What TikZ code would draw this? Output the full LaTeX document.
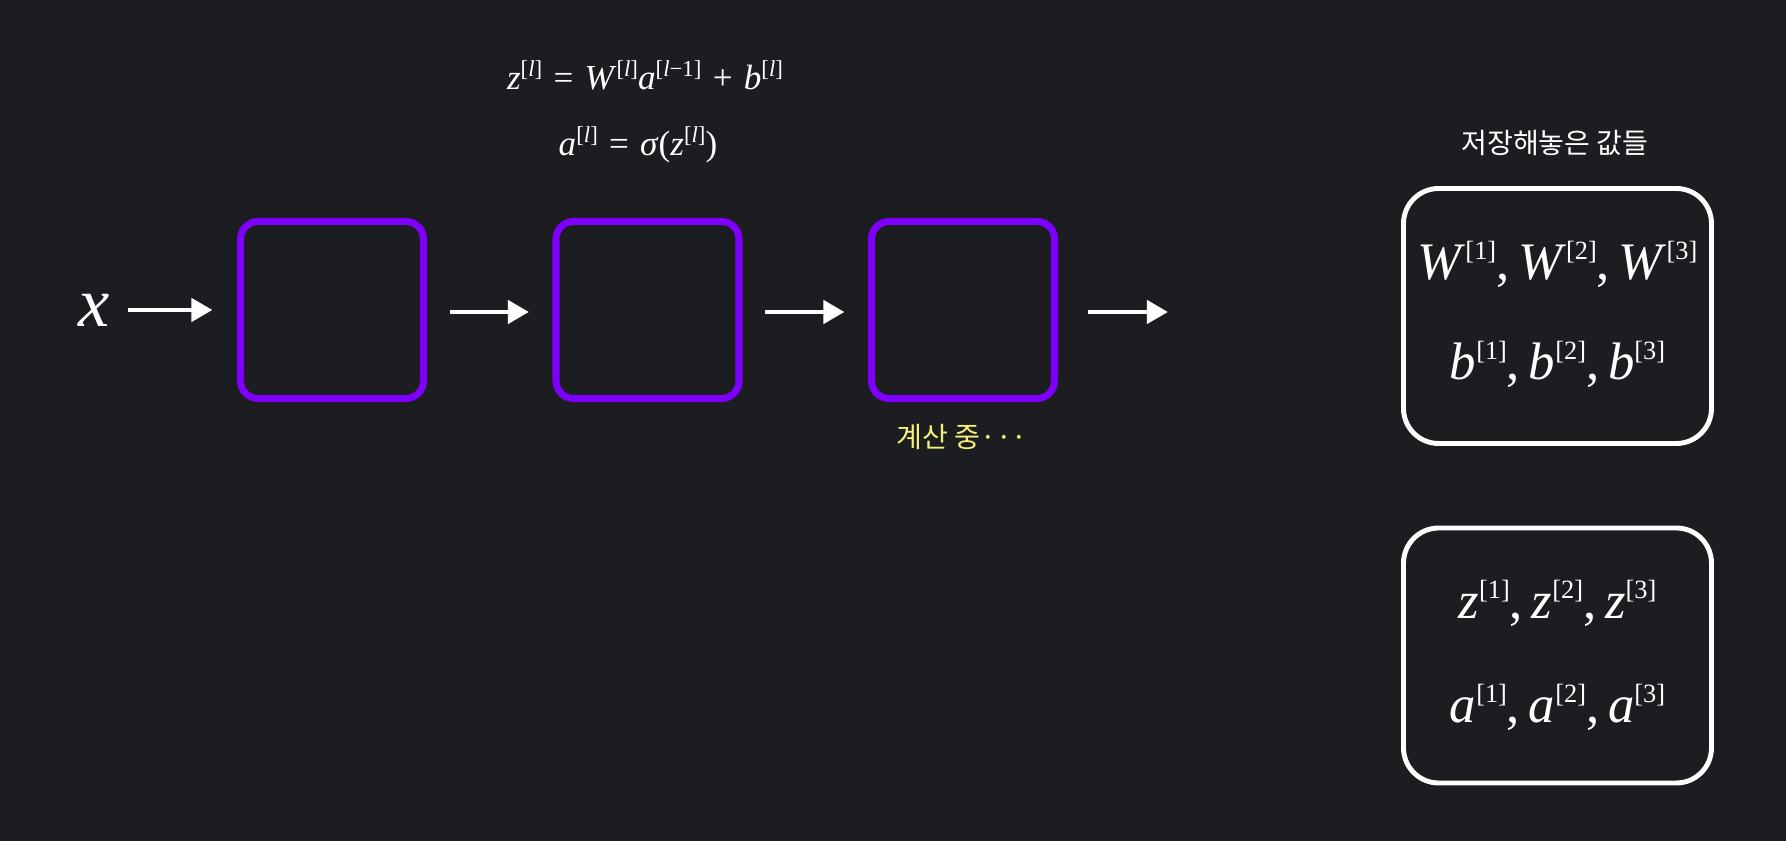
\documentclass[tikz,border=0pt]{standalone}
\usepackage{graphicx}
\usepackage{fontspec}
\setmainfont{Liberation Serif}
\newfontfamily\kofont{Noto Sans CJK KR}
\usetikzlibrary{arrows.meta}
\definecolor{bgcol}{RGB}{28,29,33}
\definecolor{layerpurple}{RGB}{125,0,250}
\definecolor{noteyellow}{RGB}{245,240,120}
% superscript layer index, [..]
\newcommand{\idx}[2][0.5]{\raisebox{0.38em}{\scalebox{#1}{[#2]}}}
\newcommand{\vals}[1]{\textit{#1}\idx{1},\,\textit{#1}\idx{2},\,\textit{#1}\idx{3}}
\newcommand{\rel}[1]{\hspace{0.32em}#1\hspace{0.32em}}

\begin{document}
\begin{tikzpicture}[
		layer/.style={draw=layerpurple, line width=2pt, rounded corners=5pt, minimum width=1.83cm, minimum height=1.77cm},
		store/.style={draw=white, line width=1.4pt, rounded corners=10pt, minimum width=3.08cm, minimum height=2.55cm},
		arr/.style={-{Triangle[length=6pt,width=6.5pt]}, white, line width=1.4pt},
		eq/.style={white, inner sep=0pt, anchor=base, font=\fontsize{10}{12}\selectfont},
		big/.style={white, inner sep=0pt, anchor=base, font=\fontsize{15}{18}\selectfont}
	]
		\fill [bgcol] (0,0) rectangle (17.86,-8.41);
		\useasboundingbox (0,0) rectangle (17.86,-8.41);
		% layers
		\node [layer] (l1) at (3.32,-3.10) {};
		\node [layer] (l2) at (6.475,-3.10) {};
		\node [layer] (l3) at (9.63,-3.10) {};
		\node [white, inner sep=0pt, font=\fontsize{20}{24}\selectfont\itshape] (in) at (0.94,-3.10) {x};
		\coordinate (out) at (11.68,-3.12);
		\draw [arr, shorten <=0.18cm, shorten >=0.245cm] (in.east) -- (in.east -| l1.west);
		\draw [arr, shorten <=0.225cm, shorten >=0.235cm] ([yshift=-0.02cm]l1.east) -- ([yshift=-0.02cm]l2.west);
		\draw [arr, shorten <=0.225cm, shorten >=0.235cm] ([yshift=-0.02cm]l2.east) -- ([yshift=-0.02cm]l3.west);
		\draw [arr, shorten <=0.3cm] (l3.east |- out) -- (out);
		% formulas
		\node [eq] (fz) at (6.45,-0.90) {\textit{z}\idx[0.65]{\textit{l}}\rel{=}\textit{W}\idx[0.65]{\textit{l}}\textit{a}\idx[0.65]{\textit{l}−1}\rel{+}\textit{b}\idx[0.65]{\textit{l}}};
		\node [eq] (fa) at (6.38,-1.56) {\textit{a}\idx[0.65]{\textit{l}}\rel{=}\textit{σ}(\textit{z}\idx[0.65]{\textit{l}})};
		\node [noteyellow, font=\kofont\fontsize{8}{10}\selectfont] (busy) at (9.62,-4.37) {계산 중···};
		% stored values
		\node [white, font=\kofont\fontsize{8}{10}\selectfont] (title) at (15.55,-1.43) {저장해놓은 값들};
		\node [store] (s1) at (15.575,-3.16) {};
		\node [store] (s2) at (15.575,-6.555) {};
		\node [big] (wv) at ([yshift=0.36cm]s1.center) {\vals{W}};
		\node [big] (bv) at ([yshift=-0.64cm]s1.center) {\vals{b}};
		\node [big] (zv) at ([yshift=0.37cm]s2.center) {\vals{z}};
		\node [big] (av) at ([yshift=-0.67cm]s2.center) {\vals{a}};
	\end{tikzpicture}
\end{document}
